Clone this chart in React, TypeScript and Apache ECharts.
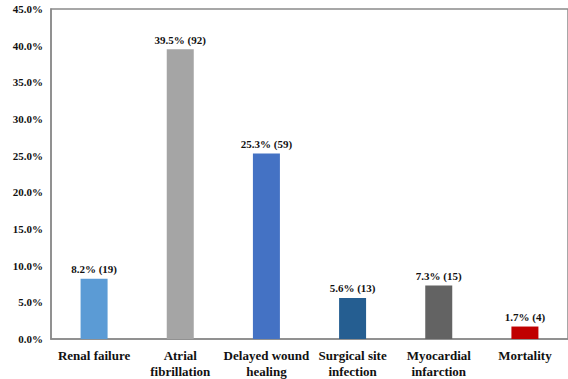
import React, { useEffect, useRef } from "react";
import * as echarts from "echarts";

const categories = [
  "Renal failure",
  "Atrial\nfibrillation",
  "Delayed wound\nhealing",
  "Surgical site\ninfection",
  "Myocardial\ninfarction",
  "Mortality",
];
const percents = [8.2, 39.5, 25.3, 5.6, 7.3, 1.7];
const counts = [19, 92, 59, 13, 15, 4];
const colors = ["#5B9BD5", "#A5A5A5", "#4472C4", "#255E91", "#636363", "#C00000"];

const FONT = "Liberation Serif";

export default function App() {
  const ref = useRef<HTMLDivElement>(null);
  useEffect(() => {
    if (!ref.current) return;
    const chart = echarts.init(ref.current, undefined, { renderer: "svg" });
    chart.setOption({
      animation: false,
      textStyle: { fontFamily: FONT },
      grid: {
        left: 51,
        right: -5,
        top: 9,
        bottom: 37,
        show: true,
        borderColor: "#8a8a8a",
        borderWidth: 1.5,
        containLabel: false,
      },
      xAxis: {
        type: "category",
        data: categories,
        axisLine: { show: true, lineStyle: { color: "#8a8a8a", width: 1.5 } },
        axisTick: { show: false },
        axisLabel: {
          color: "#111",
          fontFamily: FONT,
          fontWeight: "bold",
          fontSize: 13,
          lineHeight: 16,
          margin: 8,
          interval: 0,
        },
      },
      yAxis: {
        type: "value",
        min: 0,
        max: 45,
        interval: 5,
        axisLine: { show: true, lineStyle: { color: "#8a8a8a", width: 1.5 } },
        axisTick: { show: false },
        splitLine: { show: false },
        axisLabel: {
          color: "#111",
          fontFamily: FONT,
          fontWeight: "bold",
          fontSize: 11,
          margin: 8,
          formatter: (v: number) => v.toFixed(1) + "%",
        },
      },
      series: [
        {
          type: "bar",
          barWidth: 27,
          data: percents.map((v, i) => ({ value: v, itemStyle: { color: colors[i] } })),
          label: {
            show: true,
            position: "top",
            distance: 4,
            color: "#111",
            fontFamily: FONT,
            fontWeight: "bold",
            fontSize: 11,
            formatter: (p: any) => `${percents[p.dataIndex].toFixed(1)}% (${counts[p.dataIndex]})`,
          },
        },
      ],
    });
    return () => chart.dispose();
  }, []);
  return (
    <div
      ref={ref}
      style={{ position: "fixed", left: 0, top: 0, width: 568, height: 379, background: "#fff" }}
    />
  );
}
